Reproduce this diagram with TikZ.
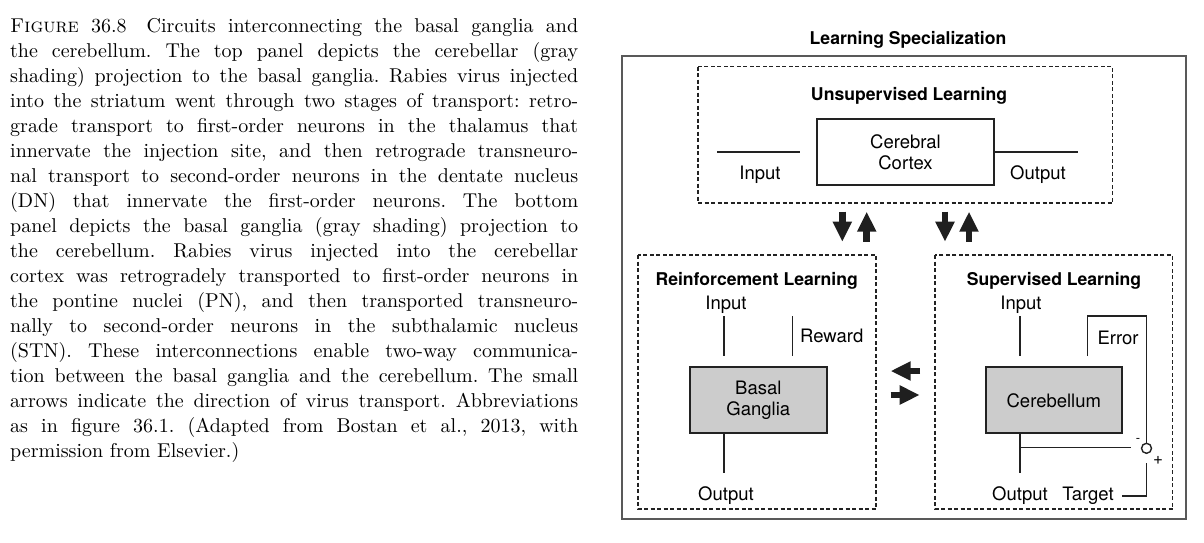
\documentclass[tikz,border=0pt]{standalone}
\usepackage{fontspec}
\setsansfont{TeX Gyre Heros}
\newfontfamily\capfont{lmroman10}[Extension=.otf, UprightFont=*-regular, BoldFont=*-bold, ItalicFont=*-italic, SmallCapsFont=lmromancaps10-regular]
\usetikzlibrary{arrows.meta}
\definecolor{ln}{HTML}{222222}
\definecolor{boxfill}{HTML}{CCCCCC}
\tikzset{
  capline/.style={anchor=base west,inner sep=0pt,font=\capfont\fontsize{20}{25}\selectfont},
  lbl/.style={anchor=base,inner sep=0pt,font=\sffamily\fontsize{18.5}{21}\selectfont},
  lblw/.style={anchor=base west,inner sep=0pt,font=\sffamily\fontsize{18.5}{21}\selectfont},
  ttl/.style={anchor=base,inner sep=0pt,font=\sffamily\bfseries\fontsize{17.6}{20}\selectfont},
  dashbox/.style={draw=ln,line width=1.2pt,dash pattern=on 4pt off 2.5pt},
  outerbox/.style={draw=black!65,line width=1.3pt},
  unit/.style={draw=ln,line width=1.8pt,inner sep=0pt,align=center,font=\sffamily\fontsize{18.5}{20.7}\selectfont},
  wire/.style={draw=ln,line width=1.4pt},
  blockarrow/.style={draw=black!88,line width=6.5pt,-{Triangle[width=18pt,length=20pt]}},
}
\begin{document}
\begin{tikzpicture}[x=1pt,y=-1pt]
\useasboundingbox (0,0) rectangle (1204,542);
% caption
\foreach \t [count=\i] in {
{\textsc{Figure} 36.8\quad Circuits interconnecting the basal ganglia and},
{the cerebellum. The top panel depicts the cerebellar (gray},
{shading) projection to the basal ganglia. Rabies virus injected},
{into the striatum went through two stages of transport: retro-},
{grade transport to first-order neurons in the thalamus that},
{innervate the injection site, and then retrograde transneuro-},
{nal transport to second-order neurons in the dentate nucleus},
{(DN) that innervate the first-order neurons. The bottom},
{panel depicts the basal ganglia (gray shading) projection to},
{the cerebellum. Rabies virus injected into the cerebellar},
{cortex was retrogradely transported to first-order neurons in},
{the pontine nuclei (PN), and then transported transneuro-},
{nally to second-order neurons in the subthalamic nucleus},
{(STN). These interconnections enable two-way communica-},
{tion between the basal ganglia and the cerebellum. The small},
{arrows indicate the direction of virus transport. Abbreviations},
{as in figure 36.1. (Adapted from Bostan et al., 2013, with}}
  \node[capline] (cap\i) at (10,{7+25*\i}) {\frenchspacing\makebox[568pt][s]{\t}};
\node[capline] (cap18) at (10,457) {permission from Elsevier.)};

% outer frame and title
\node[ttl] (title) at (908,44) {Learning Specialization};
\draw[outerbox] (622,56) rectangle (1186,519);

% unsupervised
\draw[dashbox] (698,66.7) rectangle (1112.7,203);
\node[ttl] (utitle) at (909,100) {Unsupervised Learning};
\node[unit,minimum width=177pt,minimum height=65.7pt] (cortex) at (905.5,152) {Cerebral\\Cortex};
\coordinate (uin1) at (717,152);
\coordinate (uin2) at (800,152);
\coordinate (uout) at (1078,152);
\draw[wire] (uin1) -- (uin2);
\draw[wire] (cortex.east) -- (uout);
\node[lbl] (uinl) at (760,179.3) {Input};
\node[lbl] (uoutl) at (1038,179.3) {Output};

% vertical arrows
\coordinate (v1a) at (842.3,211.7); \coordinate (v1b) at (842.3,241.7);
\coordinate (v2a) at (866.7,241.7); \coordinate (v2b) at (866.7,211.7);
\coordinate (v3a) at (945,211.7);   \coordinate (v3b) at (945,241.7);
\coordinate (v4a) at (969,241.7);   \coordinate (v4b) at (969,211.7);
\draw[blockarrow] (v1a) -- (v1b);
\draw[blockarrow] (v2a) -- (v2b);
\draw[blockarrow] (v3a) -- (v3b);
\draw[blockarrow] (v4a) -- (v4b);

% horizontal arrows
\coordinate (h1a) at (920,371); \coordinate (h1b) at (890.7,371);
\coordinate (h2a) at (890.7,395); \coordinate (h2b) at (919.7,395);
\draw[blockarrow] (h1a) -- (h1b);
\draw[blockarrow] (h2a) -- (h2b);

% reinforcement
\draw[dashbox] (638,255) rectangle (876,509);
\node[ttl] (rtitle) at (756.7,285) {Reinforcement Learning};
\node[lbl] (rinl) at (726,309) {Input};
\coordinate (rin1) at (724,316); \coordinate (rin2) at (724,356);
\draw[wire] (rin1) -- (rin2);
\coordinate (rw1) at (792.7,316); \coordinate (rw2) at (792.7,356);
\draw[wire] (rw1) -- (rw2);
\node[lblw] (rwl) at (800,342.7) {Reward};
\node[unit,fill=boxfill,minimum width=136.7pt,minimum height=66pt] (bg) at (758.3,400.3) {Basal\\Ganglia};
\coordinate (rout) at (724,473);
\draw[wire] (bg.south -| rout) -- (rout);
\node[lbl] (routl) at (726,500) {Output};

% supervised
\draw[dashbox] (935,255) rectangle (1172.7,509);
\node[ttl] (stitle) at (1054,285) {Supervised Learning};
\node[lbl] (sinl) at (1021,309) {Input};
\coordinate (sin1) at (1020,316); \coordinate (sin2) at (1020,356);
\draw[wire] (sin1) -- (sin2);
\node[unit,fill=boxfill,minimum width=135.7pt,minimum height=66pt] (cb) at (1053.8,400.3) {Cerebellum};
\node[draw=ln,line width=1.4pt,circle,minimum size=10pt,inner sep=0pt] (sum) at (1146.5,448.3) {};
\coordinate (err1) at (1087.7,356);
\coordinate (err2) at (1087.7,316);
\coordinate (err3) at (1146.5,316);
\draw[wire] (err1) -- (err2) -- (err3) -- (sum.north);
\node[lbl] (errl) at (1118,344) {Error};
\coordinate (sout) at (1020,473);
\draw[wire] (cb.south -| sout) -- (sout);
\coordinate (br1) at (1020,447.7);
\coordinate (br2) at (1131,447.7);
\draw[wire] (br1) -- (br2);
\coordinate (tg1) at (1146.5,463);
\coordinate (tg2) at (1146.5,496);
\coordinate (tg3) at (1122,496);
\draw[wire] (tg1) -- (tg2) -- (tg3);
\node[anchor=center,inner sep=0pt,font=\sffamily\fontsize{13}{13}\selectfont] (minus) at (1138,440) {-};
\node[anchor=center,inner sep=0pt,font=\sffamily\fontsize{17}{17}\selectfont] (plus) at (1158,460.7) {+};
\node[lbl] (soutl) at (1020,500) {Output};
\node[lbl] (tgtl) at (1088,500) {Target};
\end{tikzpicture}
\end{document}
